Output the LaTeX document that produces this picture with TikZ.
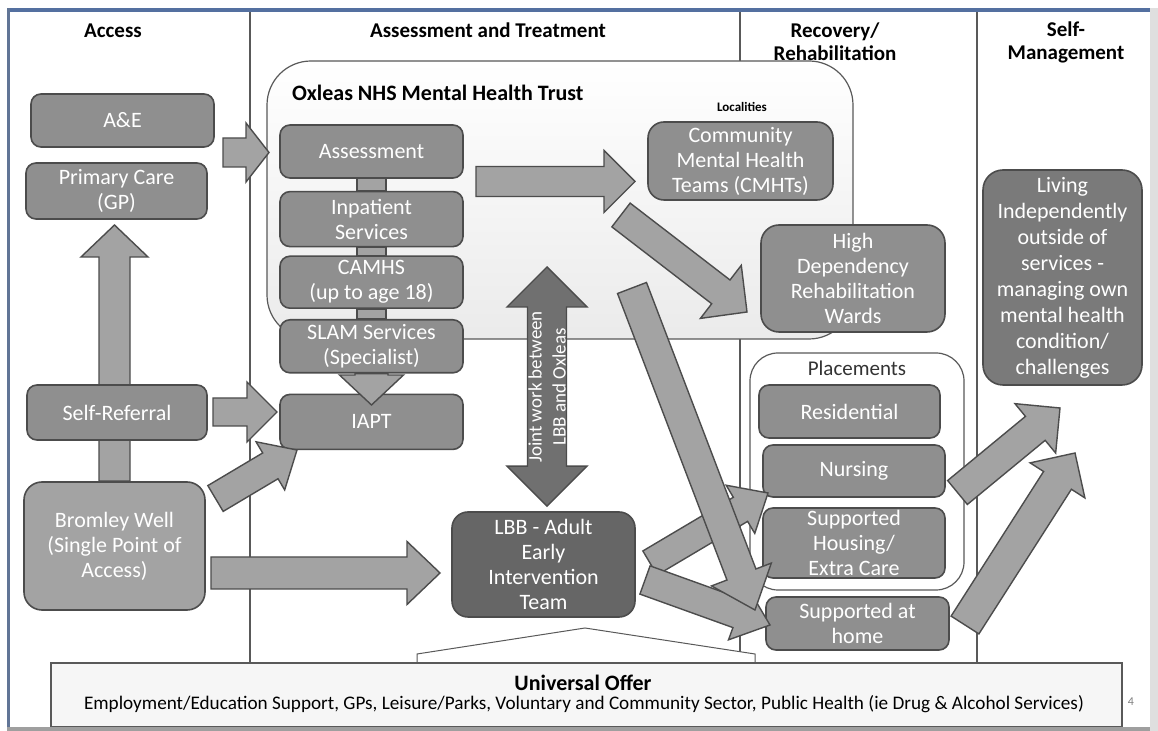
\documentclass[tikz,border=0pt]{standalone}
\usepackage{fontspec}
\setmainfont{Carlito}
\usetikzlibrary{calc,positioning}

\definecolor{boxgray}{gray}{0.56}
\definecolor{arrowgray}{gray}{0.64}
\definecolor{lbbgray}{gray}{0.40}
\definecolor{livinggray}{gray}{0.48}
\definecolor{wellgray}{gray}{0.64}
\definecolor{jointgray}{gray}{0.44}
\definecolor{linegray}{gray}{0.30}
\definecolor{frameblue}{RGB}{84,112,160}

% tail, tip, half shaft, half head, head length
\newcommand{\blockarrow}[6][arrowgray]{%
  \coordinate (ba-h) at ($(#3)!#6!(#2)$);
  \filldraw[fill=#1, draw=linegray, line width=0.7pt]
    ($(#2)!#4!90:(#3)$) -- ($(ba-h)!#4!-90:(#2)$) -- ($(ba-h)!#5!-90:(#2)$)
    -- (#3) -- ($(ba-h)!#5!90:(#2)$) -- ($(ba-h)!#4!90:(#2)$)
    -- ($(#2)!#4!-90:(#3)$) -- cycle;}
\newcommand{\twowayarrow}[6][jointgray]{%
  \coordinate (tw-a) at ($(#2)!#6!(#3)$);
  \coordinate (tw-b) at ($(#3)!#6!(#2)$);
  \filldraw[fill=#1, draw=linegray, line width=0.7pt]
    (#2) -- ($(tw-a)!#5!90:(#3)$) -- ($(tw-a)!#4!90:(#3)$)
    -- ($(tw-b)!#4!-90:(#2)$) -- ($(tw-b)!#5!-90:(#2)$) -- (#3)
    -- ($(tw-b)!#5!90:(#2)$) -- ($(tw-b)!#4!90:(#2)$)
    -- ($(tw-a)!#4!-90:(#3)$) -- ($(tw-a)!#5!-90:(#3)$) -- cycle;}

\begin{document}
\begin{tikzpicture}[x=0.5pt, y=-0.5pt,
    box/.style={draw=linegray, fill=boxgray, line width=0.8pt, rounded corners=5pt,
      text=white, align=center, inner sep=0pt, font=\fontsize{11}{12.5}\selectfont},
    head/.style={font=\bfseries\fontsize{10.5}{11.5}\selectfont, align=center},
    divline/.style={draw=gray!70!black, line width=0.6pt},
    container/.style={draw=gray!70!black, line width=0.6pt, inner sep=0pt}
  ]
  \useasboundingbox (0,0) rectangle (1158,731);
  \fill[white] (0,0) rectangle (1158,731);

  \draw[divline] (250,12) -- (250,728);
  \draw[divline] (740,12) -- (740,728);
  \draw[divline] (977,12) -- (977,728);

  \node[head] (h-access) at (113,31) {Access};
  \node[head] (h-assess) at (488,30) {Assessment and Treatment};
  \node[head] (h-recovery) at (835,42) {Recovery/\\Rehabilitation};
  \node[head] (h-self) at (1066,42) {Self-\\Management};

  \node[container, top color=white, bottom color=gray!16, rounded corners=22pt,
    minimum width=293pt, minimum height=139pt] (oxleas) at (560,200) {};
  \node[anchor=west, font=\bfseries\fontsize{11}{12}\selectfont] (oxleas-title) at (285,93) {Oxleas NHS Mental Health Trust};
  \node[font=\bfseries\fontsize{6.5}{7}\selectfont] (localities) at (742,107) {Localities};

  \node[container, fill=white, rounded corners=14pt,
    minimum width=107pt, minimum height=118.5pt] (placements) at (857,471.5) {};
  \node[font=\fontsize{10.5}{12}\selectfont, text=black!80] (placements-title) at (857,368) {Placements};

  \node[box, minimum width=91.5pt, minimum height=26.5pt] (AE) at (122.5,120.5) {A\&E};
  \node[box, minimum width=90.5pt, minimum height=28pt] (GP) at (116.5,191) {Primary Care\\(GP)};
  \node[box, fill=wellgray, rounded corners=9pt, minimum width=90.5pt, minimum height=64pt] (Bromley) at (114.5,546) {Bromley Well\\(Single Point of\\Access)};
  \coordinate (gp-in) at (114.5,225);
  \blockarrow{Bromley.north}{gp-in}{7.75pt}{16.75pt}{16pt}
  \node[box, minimum width=90pt, minimum height=27.5pt] (SelfRef) at (117,412.5) {Self-Referral};

  \node[box, minimum width=91.5pt, minimum height=26.5pt] (Assess) at (371.5,151.5) {Assessment};
  \node[box, minimum width=91.5pt, minimum height=27.5pt, below=6pt of Assess] (Inpat) {Inpatient\\Services};
  \node[box, minimum width=91.5pt, minimum height=26pt, below=4pt of Inpat] (CAMHS) {CAMHS\\(up to age 18)};
  \node[box, minimum width=91.5pt, minimum height=26.5pt, below=5pt of CAMHS] (SLAM) {SLAM Services\\(Specialist)};
  \node[box, minimum width=91.5pt, minimum height=27.5pt, below=10pt of SLAM] (IAPT) {IAPT};
  \filldraw[fill=arrowgray, draw=linegray, line width=0.6pt] ([xshift=-7.25pt]Assess.south) rectangle ([xshift=7.25pt]Inpat.north);
  \filldraw[fill=arrowgray, draw=linegray, line width=0.6pt] ([xshift=-7.25pt]Inpat.south) rectangle ([xshift=7.25pt]CAMHS.north);
  \filldraw[fill=arrowgray, draw=linegray, line width=0.6pt] ([xshift=-7.25pt]CAMHS.south) rectangle ([xshift=7.25pt]SLAM.north);

  \node[box, fill=lbbgray, rounded corners=8pt, minimum width=91.5pt, minimum height=52.5pt] (LBB) at (543.5,564.5) {LBB - Adult\\Early\\Intervention\\Team};
  \node[box, rounded corners=8pt, minimum width=92.5pt, minimum height=39pt] (CMHT) at (740.5,161) {Community\\Mental Health\\Teams (CMHTs)};
  \node[box, rounded corners=9pt, minimum width=92pt, minimum height=53.5pt] (HDR) at (853,278.5) {High\\Dependency\\Rehabilitation\\Wards};
  \node[box, fill=livinggray, rounded corners=10pt, minimum width=79.5pt, minimum height=107.5pt,
    font=\fontsize{11}{13}\selectfont] (Living) at (1062.5,277.5) {Living\\Independently\\outside of\\services -\\managing own\\mental health\\condition/\\challenges};
  \node[box, minimum width=90.5pt, minimum height=26.5pt] (Resid) at (849.5,411.5) {Residential};
  \node[box, minimum width=91pt, minimum height=26pt] (Nursing) at (854,471) {Nursing};
  \node[box, minimum width=91pt, minimum height=35pt] (SuppHousing) at (854,543) {Supported\\Housing/\\Extra Care};
  \node[box, minimum width=91.5pt, minimum height=26.5pt] (SuppHome) at (857.5,623.5) {Supported at\\home};

  \coordinate (ae-out) at (223,152.5);
  \coordinate (assess-in) at (269,152.5);
  \coordinate (sr-out) at (213,412);
  \coordinate (iapt-in) at (277,412);
  \coordinate (bw-up) at (215.5,498.5);
  \coordinate (iapt-in2) at (297,450);
  \coordinate (bw-out) at (211,573);
  \coordinate (lbb-in) at (440,573);
  \coordinate (iapt-top) at (371.5,405);
  \coordinate (assess-out) at (476,181.5);
  \coordinate (cmht-in) at (635,181.5);
  \coordinate (hdr-out) at (621,215);
  \coordinate (hdr-in) at (747,312);
  \coordinate (home-out) at (632,288);
  \coordinate (home-in) at (755,610);
  \coordinate (lbb-up) at (650,563);
  \coordinate (nursing-in) at (768,493);
  \coordinate (lbb-down) at (645,580);
  \coordinate (home-in2) at (770,625);
  \coordinate (nursing-out) at (957.5,492.5);
  \coordinate (living-in) at (1060,408);
  \coordinate (home-out2) at (965,625);
  \coordinate (living-in2) at (1075,453);
  \coordinate (joint-top) at (547,267);
  \coordinate (joint-bot) at ([xshift=1.75pt,yshift=2.5pt]LBB.north);

  \blockarrow{ae-out}{assess-in}{7.25pt}{14.75pt}{11.5pt}
  \blockarrow{sr-out}{iapt-in}{7pt}{15pt}{15pt}
  \blockarrow{bw-up}{iapt-in2}{7.5pt}{14pt}{15.5pt}
  \blockarrow{bw-out}{lbb-in}{8pt}{15.75pt}{16.5pt}
  \blockarrow{SLAM.south}{iapt-top}{8.25pt}{16pt}{15pt}
  \blockarrow{assess-out}{cmht-in}{7.5pt}{15.5pt}{15.5pt}
  \blockarrow{hdr-out}{hdr-in}{7.5pt}{16.75pt}{16.5pt}
  \blockarrow{lbb-up}{nursing-in}{7pt}{14pt}{16pt}
  \blockarrow{lbb-down}{home-in2}{7.5pt}{14pt}{17pt}
  \blockarrow{home-out}{home-in}{7.75pt}{16pt}{19pt}
  \blockarrow{nursing-out}{living-in}{7.75pt}{16pt}{16pt}
  \blockarrow{home-out2}{living-in2}{8.25pt}{16.25pt}{16.25pt}

  \twowayarrow{joint-top}{joint-bot}{9.75pt}{20pt}{20pt}
  \node[rotate=90, text=white, align=center, font=\fontsize{9.5}{12}\selectfont] (joint) at (547,387) {Joint work between\\LBB and Oxleas};

  \coordinate (uo-tip) at (585,628);
  \filldraw[fill=white, draw=gray!70!black, line width=0.5pt] (417,664) -- (417,654) -- (uo-tip) -- (755,654) -- (755,664);
  \node[draw=gray!70!black, fill=gray!7, line width=0.6pt, inner sep=0pt,
    minimum width=535.5pt, minimum height=32pt] (Universal) at (586.5,695) {};
  \node[font=\bfseries\fontsize{11}{13}\selectfont] (universal-title) at (583,683) {Universal Offer};
  \node[font=\fontsize{9.6}{11}\selectfont] (universal-text) at (584,704) {Employment/Education Support, GPs, Leisure/Parks, Voluntary and Community Sector, Public Health (ie Drug \& Alcohol Services)};
  \node[font=\fontsize{6}{6}\selectfont, text=gray] (pagemark) at (1131,702) {4};

  \fill[frameblue] (7,8) rectangle (1152,12);
  \fill[frameblue!70!gray] (7,8) rectangle (10,731);
  \fill[gray!75] (7,727) rectangle (1158,731);
  \fill[gray!25] (1150,8) rectangle (1158,731);
\end{tikzpicture}
\end{document}
